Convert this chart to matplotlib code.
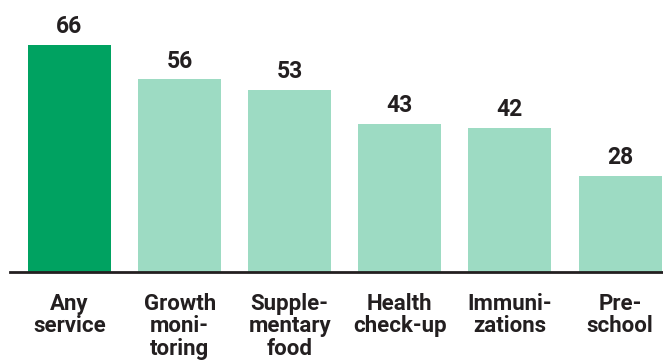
import matplotlib.pyplot as plt

plt.rcParams["font.family"] = ["Roboto", "DejaVu Sans"]

categories = ["Any\nservice", "Growth\nmoni-\ntoring", "Supple-\nmentary\nfood",
              "Health\ncheck-up", "Immuni-\nzations", "Pre-\nschool"]
values = [66, 56, 53, 43, 42, 28]
colors = ["#00A261", "#9DDBC3", "#9DDBC3", "#9DDBC3", "#9DDBC3", "#9DDBC3"]

fig = plt.figure(figsize=(6.63, 3.62), dpi=100)
ax = fig.add_axes([10 / 663, 90 / 362, 653 / 663, 258 / 362])

x = range(len(values))
bars = ax.bar(x, values, width=0.753, color=colors)

for rect, v in zip(bars, values):
    ax.annotate(str(v), (rect.get_x() + rect.get_width() / 2, v),
                xytext=(0, 8.5), textcoords="offset points",
                ha="center", va="baseline", fontsize=16.5, fontweight="bold",
                color="#231F20")

ax.set_xlim(-0.54, 5.39)
ax.set_ylim(0, 75)
ax.set_xticks(list(x))
ax.set_xticklabels(categories, fontsize=16, fontweight="bold", color="#231F20",
                   linespacing=1.02)
ax.tick_params(axis="x", length=0, pad=15)
ax.set_yticks([])
for side in ["top", "right", "left"]:
    ax.spines[side].set_visible(False)
ax.spines["bottom"].set_linewidth(2)
ax.spines["bottom"].set_color("#231F20")

fig.savefig("out.png", dpi=100)
